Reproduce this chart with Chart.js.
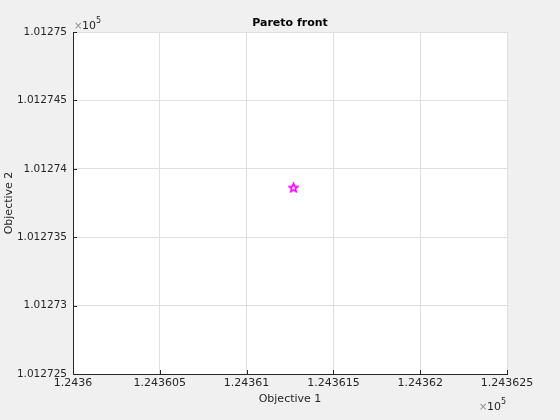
<!DOCTYPE html>
<html>
<head>
<meta charset="utf-8">
<script src="https://cdn.jsdelivr.net/npm/chart.js@4/dist/chart.umd.min.js"></script>
<style>
  html, body { margin: 0; padding: 0; background: #f0f0f0; }
  #box { width: 560px; height: 420px; }
</style>
</head>
<body>
<div id="box"><canvas id="grafico"></canvas></div>
<script>
// dados do grafico (unidades reais, eixos em x10^5)
const obj1 = [124361.27];
const obj2 = [101273.86];
const xTickLabels = ['1.2436', '1.243605', '1.24361', '1.243615', '1.24362', '1.243625'];
const yTickLabels = ['1.012725', '1.01273', '1.012735', '1.01274', '1.012745', '1.01275'];

const fonte = 'DejaVu Sans';
const corTexto = '#262626';

// marcador estrela (pentagrama) magenta
const estrela = document.createElement('canvas');
estrela.width = 11; estrela.height = 11;
(function () {
  const c = estrela.getContext('2d');
  c.strokeStyle = '#ff00ff';
  c.lineWidth = 1.6;
  c.beginPath();
  for (let i = 0; i <= 10; i++) {
    const r = i % 2 === 0 ? 4.5 : 2;
    const a = -Math.PI / 2 + i * Math.PI / 5;
    const px = 5.5 + r * Math.cos(a), py = 5.5 + r * Math.sin(a);
    if (i === 0) c.moveTo(px, py); else c.lineTo(px, py);
  }
  c.closePath();
  c.stroke();
})();

// fundo branco da area do grafico
const fundo = {
  id: 'fundo',
  beforeDraw(chart) {
    const {ctx, chartArea: a} = chart;
    ctx.save();
    ctx.fillStyle = '#ffffff';
    ctx.fillRect(a.left, a.top, a.right - a.left, a.bottom - a.top);
    ctx.restore();
  }
};

// titulo, ticks internos e multiplicadores x10^5
const extras = {
  id: 'extras',
  afterDraw(chart) {
    const {ctx, chartArea: a, scales} = chart;
    ctx.save();
    // ticks para dentro
    ctx.strokeStyle = corTexto;
    ctx.lineWidth = 1;
    ctx.beginPath();
    scales.x.ticks.forEach((t, i) => {
      const px = Math.round(scales.x.getPixelForTick(i)) + 0.5;
      ctx.moveTo(px, a.bottom); ctx.lineTo(px, a.bottom - 4);
    });
    scales.y.ticks.forEach((t, i) => {
      const py = Math.round(scales.y.getPixelForTick(i)) + 0.5;
      ctx.moveTo(a.left, py); ctx.lineTo(a.left + 4, py);
    });
    ctx.stroke();
    // titulo
    ctx.fillStyle = '#000';
    ctx.font = 'bold 11px ' + fonte;
    ctx.textAlign = 'center';
    ctx.textBaseline = 'alphabetic';
    ctx.fillText('Pareto front', (a.left + a.right) / 2, 26);
    // x10^5
    const mult = (x, y) => {
      ctx.textAlign = 'left';
      ctx.font = '10px ' + fonte;
      ctx.fillStyle = '#8c8c8c';
      ctx.fillText('\u00d7', x, y);
      ctx.fillStyle = corTexto;
      ctx.font = '11px ' + fonte;
      ctx.fillText('10', x + 8, y);
      ctx.font = '8px ' + fonte;
      ctx.fillText('5', x + 22, y - 6);
    };
    mult(a.left + 1, 29);
    mult(a.right - 28, 410);
    ctx.restore();
  }
};

new Chart(document.getElementById('grafico'), {
  type: 'scatter',
  data: {
    datasets: [{
      label: 'Pareto front',
      data: obj1.map((v, i) => ({x: v, y: obj2[i]})),
      pointStyle: estrela,
      pointRadius: 5,
      pointHoverRadius: 5
    }]
  },
  options: {
    responsive: true,
    maintainAspectRatio: false,
    animation: false,
    layout: { padding: { top: 32, right: 53, left: 0, bottom: 0 } },
    plugins: {
      legend: { display: false },
      tooltip: { enabled: false }
    },
    scales: {
      x: {
        type: 'linear',
        min: 124360,
        max: 124362.5,
        afterFit: s => { s.height = 46; },
        ticks: {
          stepSize: 0.5,
          padding: 3,
          color: corTexto,
          font: { family: fonte, size: 11 },
          maxRotation: 0,
          callback: (v, i) => xTickLabels[i]
        },
        grid: { color: '#dfdfdf', drawTicks: false },
        border: { color: corTexto, width: 1 },
        title: {
          display: true,
          text: 'Objective 1',
          color: corTexto,
          font: { family: fonte, size: 11 },
          padding: { top: 0, bottom: 14 }
        }
      },
      y: {
        type: 'linear',
        min: 101272.5,
        max: 101275,
        afterFit: s => { s.width = 73; },
        ticks: {
          stepSize: 0.5,
          padding: 6,
          color: corTexto,
          font: { family: fonte, size: 10.5 },
          callback: (v, i) => yTickLabels[i]
        },
        grid: { color: '#dfdfdf', drawTicks: false },
        border: { color: corTexto, width: 1 },
        title: {
          display: true,
          text: 'Objective 2',
          color: corTexto,
          font: { family: fonte, size: 11 },
          padding: { top: 3, bottom: 0 }
        }
      }
    }
  },
  plugins: [fundo, extras]
});
</script>
</body>
</html>
